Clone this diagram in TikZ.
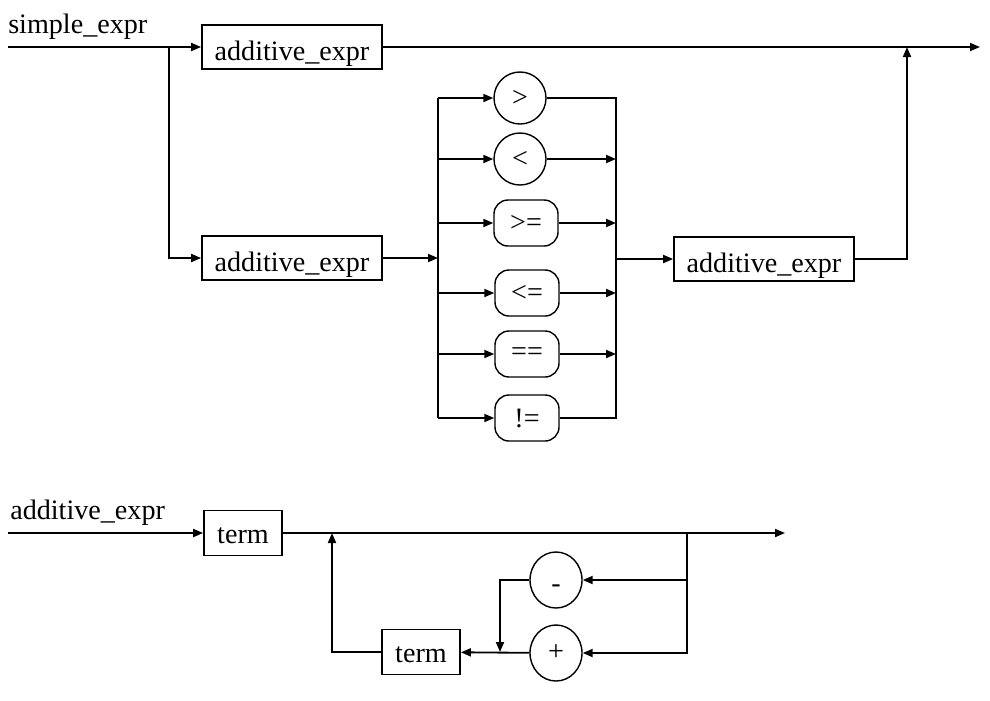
\documentclass[tikz,border=0pt]{standalone}
\usepackage{fontspec}
\setmainfont{Liberation Serif}
\usepackage{tikz}
\usetikzlibrary{shapes.geometric,arrows.meta,positioning}
\newcommand{\synfont}{\fontsize{20}{24}\selectfont}
\tikzset{
  ntbox/.style={rectangle, minimum height=1.1cm, minimum width=4.5cm,
    text height=0.65cm, text depth=0pt,
    inner sep=0pt, align=center, draw=black, line width=1.2pt, font=\synfont},
  termbox/.style={ntbox, minimum width=1.95cm, minimum height=1.125cm,
    text height=0.5cm},
  opcircle/.style={circle, minimum size=1.3cm, inner sep=0pt, draw=black,
    line width=1pt, font=\synfont},
  opround/.style={rectangle, rounded corners=0.35cm, minimum width=1.6cm,
    minimum height=1.15cm, inner sep=0pt, draw=black, line width=1pt, font=\synfont},
  opellipse/.style={ellipse, minimum width=1.3cm, minimum height=1.4cm,
    inner sep=0pt, draw=black, line width=1pt, font=\synfont},
  rulename/.style={anchor=base west, inner sep=0pt, font=\synfont},
  synline/.style={line width=1.3pt},
  synarrow/.style={-{Triangle[length=2.5mm,width=2mm]}, line width=1.3pt}
}

\begin{document}
\begin{tikzpicture}[x=0.025cm, y=-0.025cm]
\useasboundingbox (0,0) rectangle (990,700);
% simple_expr
\node[rulename] (sname) at (8,33) {simple\_expr};
\node[ntbox] (add1) at (292,47) {additive\_expr};
\node[ntbox] (add2) at (292,258) {additive\_expr};
\node[opcircle] (gt) at (520,98) {>};
\node[opcircle] (lt) at (520,159) {<};
\node[opround] (ge) at (526,223) {>=};
\node[opround] (le) at (527,293) {<=};
\node[opround] (eq) at (527,354) {==};
\node[opround] (ne) at (527,418) {!=};
\node[ntbox] (add3) at (764,259) {additive\_expr};
\coordinate (in1) at (8,47);
\coordinate (out1) at (980,47);
\coordinate (br1) at (169,47);
\coordinate (busL) at (438,258);
\coordinate (busR) at (616,259);
\coordinate (join1) at (907,47);
\draw[synarrow] (in1) -- (add1);
\draw[synarrow] (add1) -- (out1);
\draw[synarrow] (br1) |- (add2);
\draw[synarrow] (add2) -- (busL);
\draw[synline] (busL |- gt) -- (busL |- ne);
\foreach \op in {gt,lt,ge,le,eq,ne}
  \draw[synarrow] (busL |- \op) -- (\op);
\draw[synline] (gt) -| (busR |- ne) -- (ne);
\foreach \op in {lt,ge,le,eq}
  \draw[synarrow] (\op) -- (busR |- \op);
\draw[synarrow] (busR) -- (add3);
\draw[synarrow] (add3) -| (join1);
% additive_expr
\node[rulename] (aname) at (10,519) {additive\_expr};
\node[termbox] (term1) at (243,533) {term};
\node[opellipse, text height=0.6cm, text depth=0pt] (minus) at (556,580) {-};
\node[opellipse] (plus) at (556,653) {+};
\node[termbox] (term2) at (421,652) {term};
\coordinate (in2) at (8,533);
\coordinate (out2) at (785,533);
\coordinate (br2) at (687,533);
\coordinate (merge) at (500,652);
\coordinate (join2) at (332,533);
\draw[synarrow] (in2) -- (term1);
\draw[synarrow] (term1) -- (out2);
\draw[synarrow] (br2) |- (plus);
\draw[synarrow] (br2 |- minus) -- (minus);
\draw[synarrow] (minus) -| (merge);
\draw[synarrow] (plus) -- (term2);
\draw[synarrow] (term2) -| (join2);
\end{tikzpicture}
\end{document}
